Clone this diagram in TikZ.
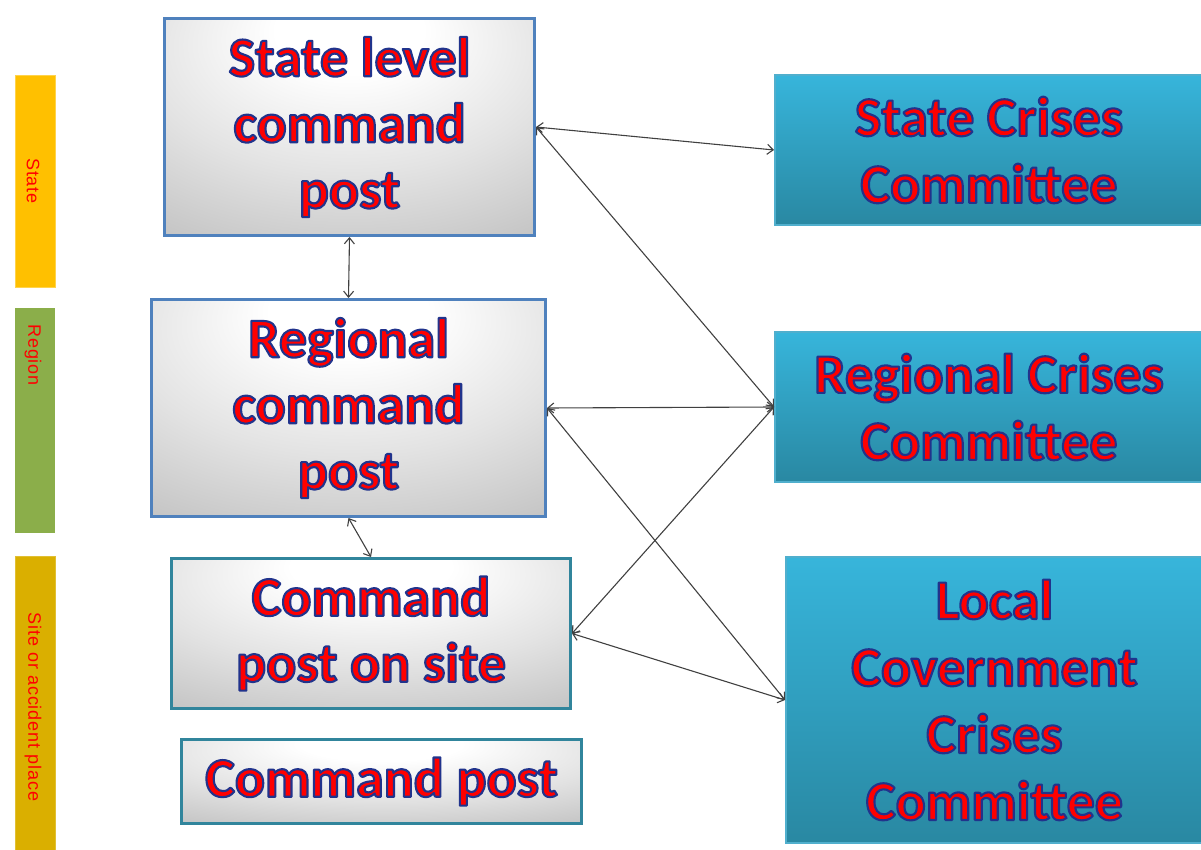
\documentclass[tikz,border=0pt]{standalone}
\usepackage{fontspec}
\usetikzlibrary{arrows.meta}
\newfontfamily\calfont{Carlito}
\newfontfamily\arialf[LetterSpace=5]{Liberation Sans}

\definecolor{txtred}{RGB}{255,0,0}
\definecolor{bluebd}{RGB}{79,129,189}
\definecolor{tealbd}{RGB}{49,133,156}
\definecolor{cyantop}{RGB}{55,181,219}
\definecolor{cyanbot}{RGB}{41,136,162}
\definecolor{cyanbd}{RGB}{80,175,205}
\definecolor{barstate}{RGB}{255,192,0}
\definecolor{barregion}{RGB}{139,174,74}
\definecolor{barsite}{RGB}{218,175,0}

% red lettering with a dark blue rim: fill red, stroke navy (text render mode 2)
\newcommand\ot[1]{{\color{txtred}%
  \special{pdf:literal direct 0.13 0.2 0.55 RG 2.1 w 1 j 2 Tr}#1%
  \special{pdf:literal direct 0 Tr}}}

% light spot near the top centre, darkening towards the corners
\pgfdeclareradialshading{grayglow}{\pgfpoint{0bp}{25bp}}{%
  color(0bp)=(white); color(10bp)=(white); color(28bp)=(gray!22);
  color(55bp)=(gray!60); color(90bp)=(gray!100)}

\tikzset{
  cmdbox/.style={rectangle, inner sep=0pt, shading=grayglow, line width=3pt,
    align=center, font=\calfont\bfseries\fontsize{56}{66}\selectfont},
  bluecmd/.style={cmdbox, draw=bluebd},
  tealcmd/.style={cmdbox, draw=tealbd},
  crisis/.style={rectangle, inner sep=0pt, top color=cyantop, bottom color=cyanbot,
    draw=cyanbd, line width=2pt, align=center,
    font=\calfont\bfseries\fontsize{56}{67}\selectfont},
  levelbar/.style={rectangle, inner sep=0pt, minimum width=40pt},
  barlabel/.style={rotate=-90, text=txtred, font=\arialf\fontsize{18}{20}\selectfont},
  link/.style={{Straight Barb[length=6pt,width=10pt]}-{Straight Barb[length=6pt,width=10pt]},
    line width=1.1pt, draw=black!75}
}

\begin{document}
\begin{tikzpicture}[x=1pt,y=-1pt]
\useasboundingbox (0,0) rectangle (1201,850);

% level bars on the left
\node[levelbar, fill=barstate, draw=barstate!70!white, minimum height=212pt] (barS) at (35,181) {};
\node[levelbar, fill=barregion, minimum height=225pt] (barR) at (35,420.5) {};
\node[levelbar, fill=barsite, draw=barsite!80!white, minimum height=296pt] (barX) at (35,704) {};
\node[barlabel] (labS) at (33,181) {State};
\node[barlabel] (labR) at (33,355) {Region};
\node[barlabel] (labX) at (33,707) {Site or accident place};

% command posts
\node[bluecmd, minimum width=370pt, minimum height=217pt] (stcmd) at (349.5,127)
  {\ot{State level}\\\ot{command}\\\ot{post}};
\node[bluecmd, minimum width=394pt, minimum height=217pt] (rgcmd) at (348.5,408)
  {\ot{Regional}\\\ot{command}\\\ot{post}};
\node[tealcmd, minimum width=399pt, minimum height=150pt] (site) at (371,633.5)
  {\ot{Command}\\\ot{post on site}};
\node[tealcmd, minimum width=400pt, minimum height=84pt] (cp) at (381.5,781.5)
  {\ot{Command post}};

% crises committees
\node[crisis, minimum width=428pt, minimum height=150pt] (stcc) at (989,150)
  {\ot{State Crises}\\\ot{Committee}};
\node[crisis, minimum width=428pt, minimum height=150pt] (rgcc) at (989,407)
  {\ot{Regional Crises}\\\ot{Committee}};
\node[crisis, minimum width=417pt, minimum height=286pt] (lgcc) at (994.5,700)
  {\ot{Local}\\\ot{Covernment}\\\ot{Crises}\\\ot{Committee}};

% links
\draw[link] (stcmd.east) -- (stcc.west);
\draw[link] (stcmd.east) -- (rgcc.west);
\draw[link] (stcmd.south) -- (rgcmd.north);
\draw[link] (rgcmd.east) -- (rgcc.west);
\draw[link] (rgcmd.east) -- (lgcc.west);
\draw[link] (site.east) -- (rgcc.west);
\draw[link] (site.east) -- (lgcc.west);
\draw[link] (rgcmd.south) -- (site.north);
\end{tikzpicture}
\end{document}
